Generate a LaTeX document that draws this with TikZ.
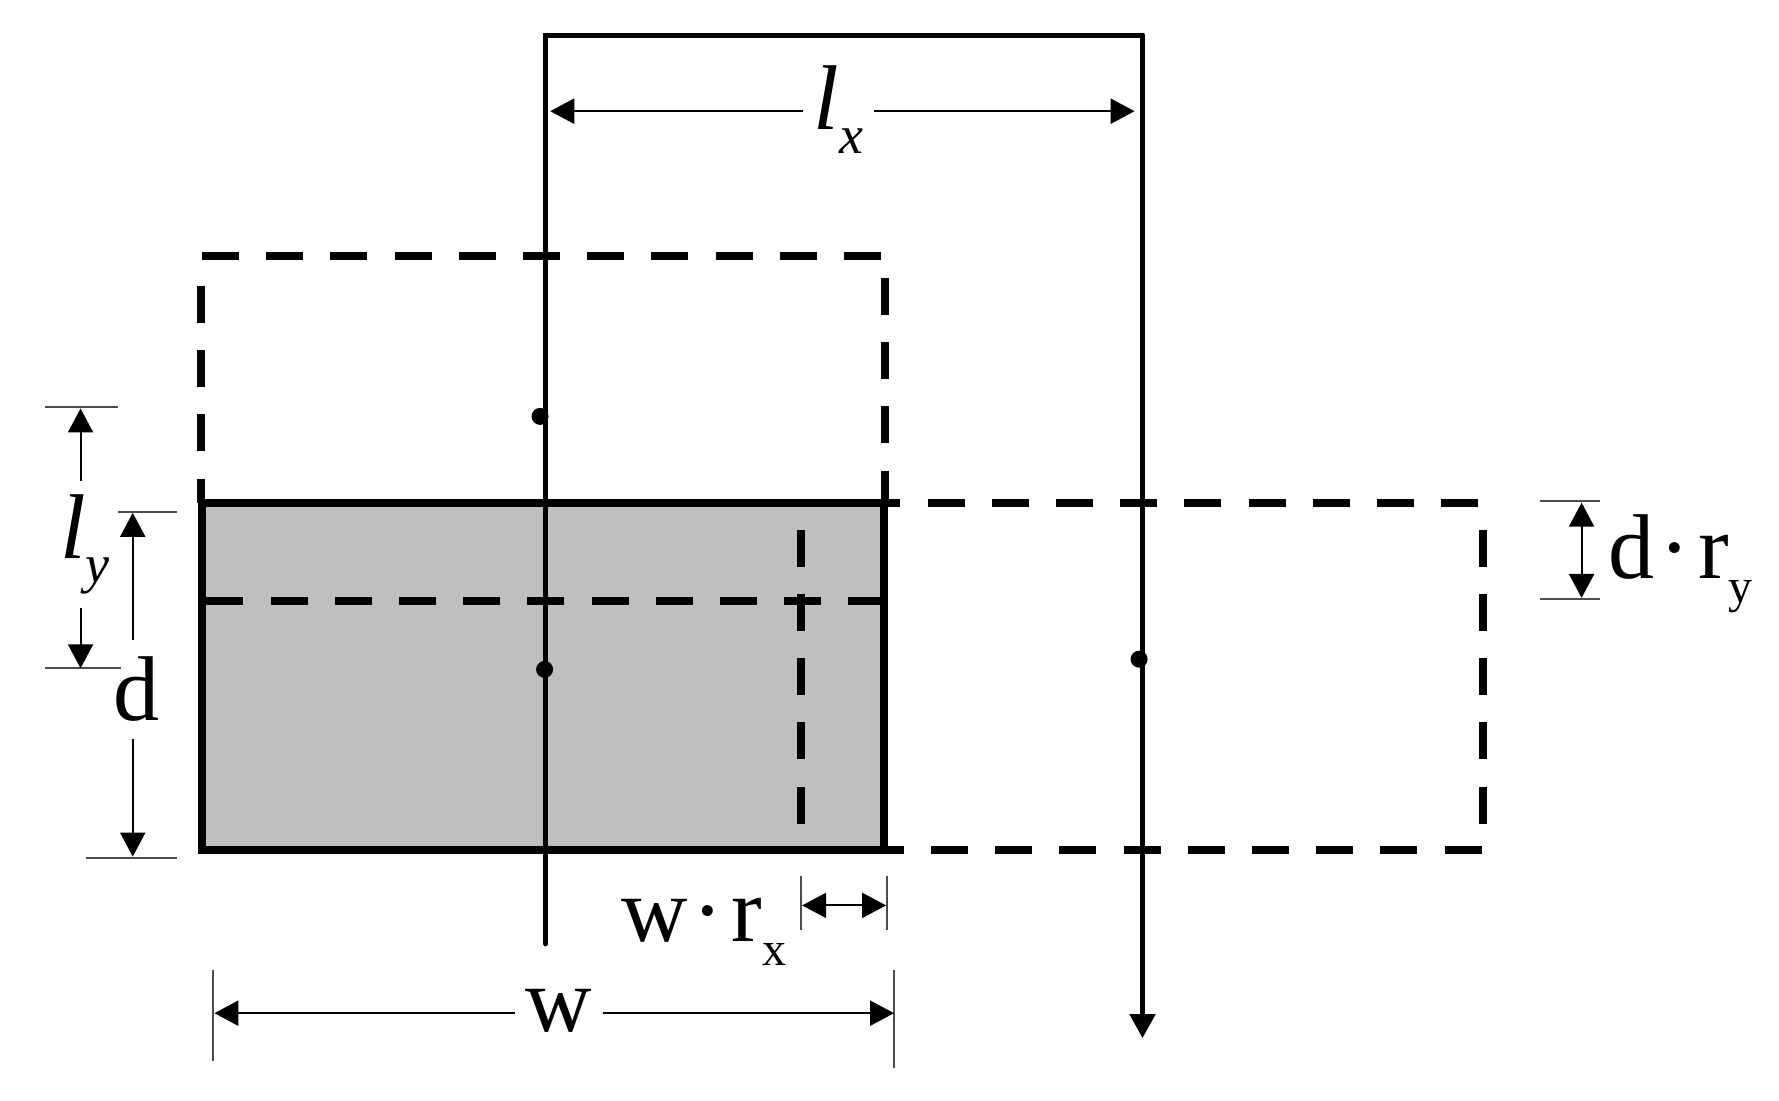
\documentclass[tikz,border=0pt]{standalone}
\usepackage{fontspec}
\setmainfont{Liberation Serif}
\usetikzlibrary{arrows.meta}
\tikzset{every picture/.style={line width=0.75pt}}
\tikzset{
	arrowtip/.style={>={Triangle[length=12pt,width=12.5pt]}},
	frameline/.style={line width=2.4pt,line cap=round},
	outline/.style={line width=4pt},
	dashline/.style={line width=4pt,dash pattern=on 18.5pt off 13.6pt},
	dimline/.style={line width=1pt,arrowtip,->},
	tickline/.style={line width=1pt,black!70},
	dot/.style={circle,fill=black,inner sep=0pt,minimum size=8.5pt},
	lbl/.style={inner sep=0pt,font=\fontsize{46}{50}\selectfont},
}
\newcommand{\sublbl}[1]{\raisebox{-12pt}{\fontsize{27}{30}\selectfont #1}}
\newcommand{\subrm}[1]{\raisebox{-12pt}{\fontsize{24}{30}\selectfont #1}}
\newcommand{\cdotlbl}{\kern2.5pt·\kern4pt}

\begin{document}
\begin{tikzpicture}[x=0.5673pt,y=-0.5673pt]
	\useasboundingbox (0,0) rectangle (1568,970.4);
	\coordinate (frameL) at (481,31); \coordinate (frameR) at (1007,31);
	\coordinate (rectTL) at (178,443); \coordinate (rectTR) at (779,443);
	\coordinate (rectBL) at (178,749); \coordinate (rectBR) at (779,749);

	\fill[black!25] (rectTL) rectangle (rectBR); %section
	\draw[outline] (rectTL) rectangle (rectBR);

	%shifted sections
	\draw[dashline] (177,252)--(177,443);
	\draw[dashline] (178,226)--(778,226);
	\draw[dashline] (780,245)--(780,443);
	\draw[dashline] (761,443)--(1305,443);
	\draw[dashline] (764,749)--(1307,749);
	\draw[dashline] (1307,467)--(1307,730);
	\draw[dashline] (182,530)--(779,530);
	\draw[dashline] (706,467)--(706,730);

	%load line
	\coordinate (loadL) at (481,832); \coordinate (loadR) at (1007,915);
	\draw[frameline] (loadL)--(frameL)--(frameR);
	\draw[frameline,arrowtip,->] (frameR)--(loadR);
	\node[dot] (dotA) at (476,367) {};
	\node[dot] (dotB) at (480,590) {};
	\node[dot] (dotC) at (1004,581) {};

	%lx
	\coordinate (lxL) at (485,98); \coordinate (lxR) at (1000,98);
	\node[lbl,minimum width=35pt] (lxlabel) at (739,97) {\textit{l}\sublbl{\textit{x}}};
	\draw[line width=1.3pt,arrowtip,->] (lxlabel.west|-lxL)--(lxL);
	\draw[line width=1.3pt,arrowtip,->] (lxlabel.east|-lxR)--(lxR);

	%ly
	\coordinate (lyT) at (71,360); \coordinate (lyB) at (71,589);
	\draw[tickline] (40,359)--(104,359);
	\draw[tickline] (40,589)--(107,589);
	\node[lbl,minimum height=62.7pt] (lylabel) at (75,480) {\textit{l}\sublbl{\textit{y}}};
	\draw[dimline] (lylabel.north-|lyT)--(lyT);
	\draw[dimline] (lylabel.south-|lyB)--(lyB);

	%d
	\coordinate (dT) at (117,452); \coordinate (dB) at (117,755);
	\draw[tickline] (104,451)--(156,451);
	\draw[tickline] (76,756)--(156,756);
	\node[lbl,minimum height=48.5pt] (dlabel) at (120,607.5) {d};
	\draw[dimline] (dlabel.north-|dT)--(dT);
	\draw[dimline] (dlabel.south-|dB)--(dB);

	%d*ry
	\coordinate (ryT) at (1394,443); \coordinate (ryB) at (1394,527);
	\draw[tickline] (1357,442)--(1410,442);
	\draw[tickline] (1357,528)--(1410,528);
	\draw[line width=1pt,arrowtip,<->] (ryT)--(ryB);
	\node[lbl,anchor=base west] (rylabel) at (1417,510) {d\cdotlbl r\subrm{y}};

	%w*rx
	\coordinate (rxL) at (707,798); \coordinate (rxR) at (781,798);
	\draw[tickline] (706,772)--(706,820);
	\draw[tickline] (782,772)--(782,820);
	\draw[line width=1pt,arrowtip,<->] (rxL)--(rxR);
	\node[lbl,anchor=base west] (rxlabel) at (547,830) {w\cdotlbl r\subrm{x}};

	%w
	\coordinate (wL) at (189,893); \coordinate (wR) at (788,893);
	\draw[tickline] (188,855)--(188,935);
	\draw[tickline] (788,855)--(788,941);
	\node[lbl,minimum width=43pt] (wlabel) at (492.5,891) {w};
	\draw[line width=1.2pt,arrowtip,->] (wlabel.west|-wL)--(wL);
	\draw[line width=1.2pt,arrowtip,->] (wlabel.east|-wR)--(wR);
\end{tikzpicture}
\end{document}
